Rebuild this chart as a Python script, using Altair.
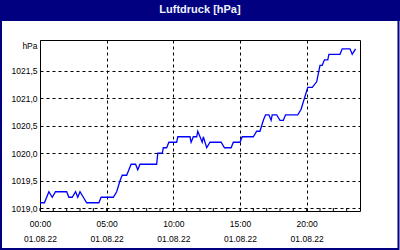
import altair as alt
import pandas as pd

TITLE = "Luftdruck [hPa]"
DATE = "2022-08-01"
times = ["00:00", "00:20", "00:40", "00:55", "01:10", "02:00", "02:10", "02:25", "02:40", "02:50",
         "03:00", "03:15", "03:30", "04:25", "04:35", "05:30", "05:45", "06:00", "06:10", "06:30",
         "06:50", "07:10", "07:20", "07:30", "08:45", "08:50", "09:10", "09:15", "09:30", "09:40",
         "10:15", "10:20", "11:15", "11:20", "11:30", "11:45", "11:50", "12:00", "12:10", "12:15",
         "12:30", "12:45", "12:50", "13:35", "13:50", "14:20", "14:30", "15:00", "15:10", "16:00",
         "16:15", "16:30", "16:45", "16:55", "17:10", "17:20", "17:25", "17:45", "18:00", "18:15",
         "18:25", "19:20", "19:35", "19:50", "20:05", "20:25", "20:45", "20:55", "21:00", "21:10",
         "21:20", "21:35", "21:40", "22:30", "22:40", "23:15", "23:25", "23:40"]
pressure = [1019.1, 1019.1, 1019.3, 1019.2, 1019.3, 1019.3, 1019.2, 1019.2, 1019.3, 1019.2,
            1019.3, 1019.2, 1019.1, 1019.1, 1019.2, 1019.2, 1019.3, 1019.5, 1019.6, 1019.6,
            1019.8, 1019.8, 1019.7, 1019.8, 1019.8, 1020.0, 1020.0, 1020.1, 1020.1, 1020.2,
            1020.2, 1020.3, 1020.3, 1020.2, 1020.3, 1020.3, 1020.4, 1020.3, 1020.2, 1020.3,
            1020.1, 1020.2, 1020.2, 1020.2, 1020.1, 1020.1, 1020.2, 1020.2, 1020.3, 1020.3,
            1020.4, 1020.4, 1020.6, 1020.7, 1020.7, 1020.6, 1020.7, 1020.7, 1020.6, 1020.6,
            1020.7, 1020.7, 1020.8, 1021.0, 1021.2, 1021.2, 1021.3, 1021.5, 1021.6, 1021.6,
            1021.7, 1021.7, 1021.8, 1021.8, 1021.9, 1021.9, 1021.8, 1021.9]
assert len(times) == len(pressure)

y_ticks = [1019.0, 1019.5, 1020.0, 1020.5, 1021.0, 1021.5]
label_hours = [0, 5, 10, 15, 20]
minor_hours = list(range(0, 24))

NAVY = "#000080"
FONT = "Liberation Sans"

df = pd.DataFrame({"Zeit": [f"{DATE}T{t}:00" for t in times], "Luftdruck": pressure})
ticks_df = pd.DataFrame({"Zeit": [f"{DATE}T{h:02d}:00:00" for h in minor_hours]})

x_scale = alt.Scale(domain=[alt.DateTime(year=2022, month=8, date=1, hours=0),
                            alt.DateTime(year=2022, month=8, date=2, hours=0)])
y_scale = alt.Scale(domain=[1018.95, 1022.06], nice=False, zero=False)

x_axis = alt.Axis(
    values=[alt.DateTime(year=2022, month=8, date=1, hours=h) for h in label_hours],
    labelExpr="[timeFormat(datum.value, '%H:%M'), timeFormat(datum.value, '%d.%m.%y')]",
    labelLineHeight=15, labelPadding=8, ticks=False, domain=False,
    grid=True, gridColor="black", gridDash=[3, 3], gridOpacity=1, gridWidth=1,
    title=None, labelFlush=False, labelOverlap=False,
)
y_axis = alt.Axis(
    values=y_ticks,
    labelExpr="replace(format(datum.value, '.1f'), '.', ',')",
    labelPadding=3, ticks=False, domain=False,
    grid=True, gridColor="black", gridDash=[3, 3], gridOpacity=1, gridWidth=1,
    title="hPa", titleAngle=0, titleAlign="right", titleBaseline="middle",
    titleX=-3, titleY=5, titleFont=FONT, titleFontSize=8.5, titleFontWeight="normal",
    labelFlush=False, labelOverlap=False,
)

one = alt.Data(values=[{}])
bar = alt.Chart(one).mark_rect(color=NAVY).encode(
    x=alt.value(-40), x2=alt.value(360), y=alt.value(-40), y2=alt.value(-19)
)
title = alt.Chart(one).mark_text(
    text=TITLE, color="#EEF2FF", font=FONT, fontSize=11, fontWeight="bold",
    align="center", baseline="alphabetic"
).encode(x=alt.value(160), y=alt.value(-27))
border = alt.Chart(one).mark_rect(
    fill="white", fillOpacity=0, stroke=NAVY, strokeWidth=2
).encode(x=alt.value(-39), x2=alt.value(358.5), y=alt.value(-39), y2=alt.value(209))

line = alt.Chart(df).mark_line(color="#0000FF", strokeWidth=1.3).encode(
    x=alt.X("Zeit:T", scale=x_scale, axis=x_axis),
    y=alt.Y("Luftdruck:Q", scale=y_scale, axis=y_axis),
)
minor = alt.Chart(ticks_df).mark_rule(color="black", strokeWidth=1).encode(
    x=alt.X("Zeit:T", scale=x_scale), y=alt.value(168), y2=alt.value(171)
)

chart = alt.layer(bar, title, border, line, minor).properties(
    width=320, height=171,
    autosize=alt.AutoSizeParams(type="none"),
    padding={"left": 40, "top": 40, "right": 40, "bottom": 39},
    background="white",
).configure_view(stroke="black", strokeWidth=1, fill="white").configure_axis(
    labelFont=FONT, labelFontSize=8.5, labelColor="black"
)

chart.save("out.html", embed_options={"renderer": "svg", "actions": False})
